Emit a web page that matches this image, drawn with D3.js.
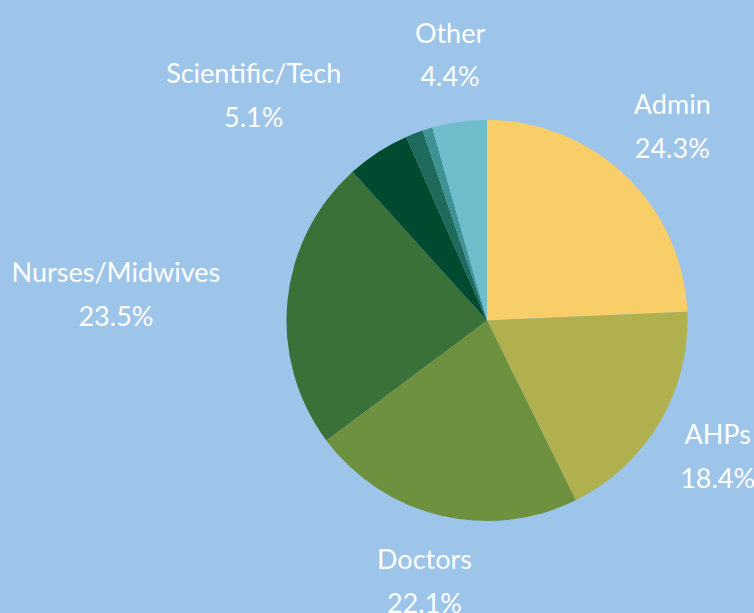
<!DOCTYPE html>
<html>
<head>
<meta charset="utf-8">
<script src="https://cdn.jsdelivr.net/npm/d3@7"></script>
<style>
  html, body { margin: 0; padding: 0; background: #9dc5ea; }
  svg { display: block; }
  .label { fill: #ffffff; font-family: "Lato", sans-serif; font-size: 27px; font-weight: 400; }
</style>
</head>
<body>
<svg width="754" height="613"></svg>
<script>
const svg = d3.select("svg"),
    width = +svg.attr("width"),
    height = +svg.attr("height");

// staff groups, share of total (%)
const categories = ["Admin", "AHPs", "Doctors", "Nurses/Midwives", "Scientific/Tech", "Other A", "Other B", "Other"];
const values = [24.3, 18.4, 22.1, 23.5, 5.1, 1.4, 0.8, 4.4];
const showLabel = [true, true, true, true, true, false, false, true];
const colors = ["#f7ce67", "#b0b04f", "#6e9140", "#3a7139", "#004a2f", "#1e6b5e", "#3d9393", "#6fbccb"];

const data = categories.map((c, i) => ({ name: c, value: values[i], show: showLabel[i] }));

const cx = 487, cy = 320.5, radius = 200.5;

const pie = d3.pie()
    .value(d => d.value)
    .sort(null);

const arc = d3.arc()
    .innerRadius(0)
    .outerRadius(radius);

const labelArc = d3.arc()
    .innerRadius(268)
    .outerRadius(268);

const color = d3.scaleOrdinal(categories, colors);

const g = svg.append("g")
    .attr("transform", `translate(${cx},${cy})`);

const arcs = pie(data);

g.selectAll("path")
    .data(arcs)
    .enter().append("path")
    .attr("d", arc)
    .attr("fill", d => color(d.data.name));

const deg = a => a * 180 / Math.PI;
// labels on the upper-left side are pushed out so they end at the anchor point
const leftSide = d => {
    const mid = deg((d.startAngle + d.endAngle) / 2);
    return mid > 250 && mid < 340;
};

const label = g.selectAll("text")
    .data(arcs.filter(d => d.data.show))
    .enter().append("text")
    .attr("class", "label")
    .attr("text-anchor", "middle");

label.append("tspan")
    .attr("x", 0)
    .attr("y", -22)
    .attr("dy", "0.35em")
    .text(d => d.data.name);

label.append("tspan")
    .attr("x", 0)
    .attr("y", 22)
    .attr("dy", "0.35em")
    .text(d => d.data.value.toFixed(1) + "%");

label.attr("transform", function(d) {
    const [x, y] = labelArc.centroid(d);
    let shift = 0;
    if (leftSide(d)) {
        const w = d3.max(d3.select(this).selectAll("tspan").nodes(), n => n.getComputedTextLength());
        shift = -w / 2;
    }
    return `translate(${x + shift},${y})`;
});
</script>
</body>
</html>
